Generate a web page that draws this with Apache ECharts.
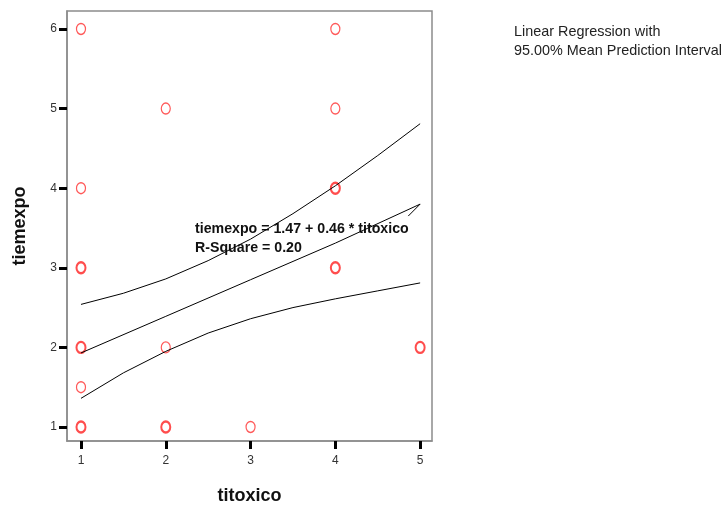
<!DOCTYPE html>
<html>
<head>
<meta charset="utf-8">
<script src="https://cdn.jsdelivr.net/npm/echarts@6/dist/echarts.min.js"></script>
<style>
html,body{margin:0;padding:0;background:#fff;}
#chart{width:727px;height:506px;}
</style>
</head>
<body>
<div id="chart"></div>
<script>
// ---- data ----
const titoxico = [1,1,1,1,1,1,1,1,1, 2,2,2,2, 3, 4,4,4,4,4,4, 5,5];
const tiemexpo = [6,4,3,3,2,2,1.5,1,1, 5,2,1,1, 1, 6,5,4,4,3,3, 2,2];

const fitX = [1, 2, 3, 4, 5, 4.86];
const fitY = [1.93, 2.39, 2.85, 3.31, 3.80, 3.65];

const ciX = [1, 1.5, 2, 2.5, 3, 3.5, 4, 4.5, 5];
const upperY = [2.54, 2.68, 2.86, 3.09, 3.36, 3.68, 4.03, 4.41, 4.81];
const lowerY = [1.36, 1.68, 1.95, 2.18, 2.36, 2.50, 2.61, 2.71, 2.81];

const xTicks = [1, 2, 3, 4, 5];
const yTicks = [1, 2, 3, 4, 5, 6];

const intercept = '1.47', slope = '0.46', rSquare = '0.20';
const legendLines = ['Linear Regression with', '95.00% Mean Prediction Interval'];
const xName = 'titoxico', yName = 'tiemexpo';

// ---- build ----
const counts = {};
titoxico.forEach((x, i) => {
  const k = x + '|' + tiemexpo[i];
  counts[k] = (counts[k] || 0) + 1;
});
const singles = [], multiples = [];
Object.keys(counts).forEach(k => {
  const [x, y] = k.split('|').map(Number);
  (counts[k] > 1 ? multiples : singles).push([x, y]);
});

const zip = (a, b) => a.map((v, i) => [v, b[i]]);
const tickStyle = {show: true, length: 8, lineStyle: {color: '#000', width: 3}};
const labelStyle = {color: '#333', fontSize: 12, fontFamily: 'Liberation Sans, Arial, sans-serif'};

const chart = echarts.init(document.getElementById('chart'), null, {renderer: 'canvas'});
chart.setOption({
  animation: false,
  backgroundColor: '#fff',
  grid: {left: 67, top: 11, width: 365, height: 430, show: true, containLabel: false,
         outerBoundsMode: 'none',
         borderColor: '#8c8c8c', borderWidth: 1.5, backgroundColor: 'transparent'},
  xAxis: {
    type: 'value', min: 0.835, max: 5.14,
    name: xName, nameLocation: 'middle', nameGap: 46,
    nameTextStyle: {fontSize: 18, fontWeight: 'bold', color: '#111', fontFamily: 'Liberation Sans, Arial, sans-serif'},
    axisLine: {show: true, lineStyle: {color: '#8c8c8c', width: 1.5}},
    axisTick: Object.assign({customValues: xTicks}, tickStyle),
    axisLabel: Object.assign({customValues: xTicks, margin: 14}, labelStyle),
    splitLine: {show: false}
  },
  yAxis: {
    type: 'value', min: 0.824, max: 6.226,
    name: yName, nameLocation: 'middle', nameGap: 38,
    nameTextStyle: {fontSize: 18, fontWeight: 'bold', color: '#111', fontFamily: 'Liberation Sans, Arial, sans-serif'},
    axisLine: {show: true, lineStyle: {color: '#8c8c8c', width: 1.5}},
    axisTick: Object.assign({customValues: yTicks}, tickStyle),
    axisLabel: Object.assign({customValues: yTicks, margin: 10}, labelStyle),
    splitLine: {show: false}
  },
  series: [
    {type: 'line', data: zip(ciX, upperY), showSymbol: false, silent: true,
     lineStyle: {color: '#000', width: 1}},
    {type: 'line', data: zip(fitX, fitY), showSymbol: false, silent: true,
     lineStyle: {color: '#000', width: 1}},
    {type: 'line', data: zip(ciX, lowerY), showSymbol: false, silent: true,
     lineStyle: {color: '#000', width: 1}},
    {type: 'scatter', data: singles, symbol: 'circle', symbolSize: [9, 11], silent: true,
     itemStyle: {color: 'transparent', borderColor: '#ff3030', borderWidth: 1.3}},
    {type: 'scatter', data: multiples, symbol: 'circle', symbolSize: [9, 11], silent: true,
     itemStyle: {color: 'transparent', borderColor: '#ff2020', borderWidth: 2.2}}
  ],
  graphic: [
    {type: 'text', left: 195, top: 220, silent: true,
     style: {text: yName + ' = ' + intercept + ' + ' + slope + ' * ' + xName + '\nR-Square = ' + rSquare,
              font: 'bold 14.2px "Liberation Sans", Arial, sans-serif', fill: '#111', lineHeight: 19}},
    {type: 'text', left: 514, top: 23, silent: true,
     style: {text: legendLines.join('\n'),
              font: '14.4px "Liberation Sans", Arial, sans-serif', fill: '#222', lineHeight: 19}}
  ]
});
</script>
</body>
</html>
